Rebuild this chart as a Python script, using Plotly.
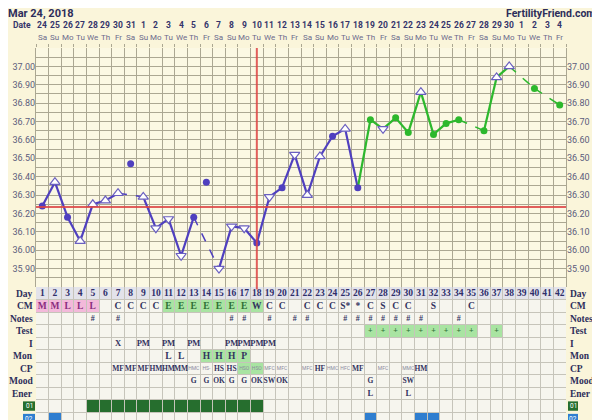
import plotly.graph_objects as go

# ---------------- data ----------------
days = list(range(1, 43))
date_nums = ["24", "25", "26", "27", "28", "29", "30", "31",
             "1", "2", "3", "4", "5", "6", "7", "8", "9", "10", "11", "12", "13", "14", "15",
             "16", "17", "18", "19", "20", "21", "22", "23", "24", "25", "26", "27", "28", "29", "30",
             "1", "2", "3", "4"]
weekdays = ["Sa", "Su", "Mo", "Tu", "We", "Th", "Fr"] * 6

temps = [36.24, 36.37, 36.18, 36.05, 36.25, 36.27, 36.31, None, 36.29, 36.12,
         36.17, 35.97, 36.18, None, 35.90, 36.13, 36.12, 36.04, 36.29, 36.34,
         36.52, 36.30, 36.51, 36.62, 36.66, 36.34, 36.71, 36.66, 36.72, 36.64,
         36.86, 36.63, 36.69, 36.71, None, 36.65, 36.94, 37.00, None, 36.88,
         None, 36.79]
marker_kind = ["c", "u", "c", "u", "u", "u", "u", None, "u", "d",
               "d", "d", "c", None, "d", "d", "d", "c", "d", "c",
               "d", "u", "u", "c", "u", "c", "c", "d", "c", "c",
               "u", "c", "c", "c", None, "c", "u", "u", None, "c",
               None, "c"]
discarded_days = [8, 14]
discarded_temps = [36.47, 36.37]
coverline = 36.235
ovulation_day = 18
last_blue_day = 26

temp_ticks = [35.90, 36.00, 36.10, 36.20, 36.30, 36.40, 36.50, 36.60, 36.70, 36.80, 36.90, 37.00]

row_labels = ["Day", "CM", "Notes", "Test", "I", "Mon", "CP", "Mood", "Ener"]
cm_row = {1: "M", 2: "M", 3: "L", 4: "L", 5: "L", 7: "C", 8: "C", 9: "C", 10: "C",
          11: "E", 12: "E", 13: "E", 14: "E", 15: "E", 16: "E", 17: "E", 18: "W",
          19: "C", 20: "C", 22: "C", 23: "C", 24: "C", 25: "S*", 26: "*", 27: "C",
          28: "S", 29: "C", 30: "C", 32: "S", 35: "C"}
notes_days = [5, 7, 16, 17, 19, 21, 22, 25, 26, 27, 28, 29, 30, 31, 34]
test_days = [27, 28, 29, 30, 31, 32, 33, 34, 35, 37]
i_row = {7: "X", 9: "PM", 11: "PM", 13: "PM", 16: "PM", 17: "PM", 18: "PM", 19: "PM"}
mon_row = {11: "L", 12: "L", 14: "H", 15: "H", 16: "H", 17: "P"}
cp_bold = {7: "MF", 8: "MF", 9: "MF", 10: "HM", 11: "HM", 12: "MM", 15: "HS", 16: "HS",
           23: "HF", 26: "MF", 31: "HM"}
cp_small = {13: "HMC", 14: "HS-", 17: "HSO", 18: "HSO", 19: "MFC", 20: "MFC", 22: "MFC",
            24: "HMC", 25: "HFC", 28: "MFC", 30: "MMC"}
mood_row = {13: "G", 14: "G", 15: "OK", 16: "G", 17: "G", 18: "OK", 19: "SW", 20: "OK",
            27: "G", 30: "SW"}
ener_row = {27: "L", 30: "L"}
cm_pink_days = [1, 2, 3, 4, 5]
cm_green_days = [11, 12, 13, 14, 15, 16, 17, 18]
mon_green_days = [14, 15, 16, 17]
cp_green_days = [17, 18]
row01_days = list(range(5, 19))
row02_days = [2, 27, 31, 32]

# ---------------- geometry (page has an 8px body margin) ----------------
OFF = 8
W, H = 600 - OFF, 420 - OFF
ML, MR, MT, MB = 36 - OFF, 34, 48 - OFF, 0
PLOT_H = H - MT - MB
PLOT_W = W - ML - MR
TEMP_BOTTOM = 287 - OFF
ROW_H = 12.5
split = (H - MB - TEMP_BOTTOM) / PLOT_H
table_rows_visible = (H - MB - TEMP_BOTTOM) / ROW_H


def py(ref_y):
    return (H - MB - (ref_y - OFF)) / PLOT_H


def px(ref_x):
    return ((ref_x - OFF) - ML) / PLOT_W


BLUE = "#4F3FBF"
GREEN = "#2DB82D"
RED = "#DD4444"
NAVY = "#33335E"
PAPER = "#FAF5DA"
TEMP_BG = "#FBF8E3"
TABLE_BG = "#F6F5EE"
GRID_T = "#ABA792"
GRID_TAB = "#C6C4BA"
SERIF = "Liberation Serif"
SANS = "Roboto"

fig = go.Figure()

# ---------------- temperature lines ----------------
valid = [(d, t) for d, t in zip(days, temps) if t is not None]
seg = {}
for (d0, t0), (d1, t1) in zip(valid, valid[1:]):
    color = BLUE if d1 <= last_blue_day else GREEN
    dashed = (d1 - d0) > 1
    key = (color, dashed)
    seg.setdefault(key, ([], []))
    seg[key][0].extend([d0, d1, None])
    seg[key][1].extend([t0, t1, None])
for (color, dashed), (xs, ys) in seg.items():
    fig.add_trace(go.Scatter(x=xs, y=ys, mode="lines", xaxis="x", yaxis="y",
                             line=dict(color=color, width=1.5 if dashed else 2.2,
                                       dash="dash" if dashed else "solid"),
                             hoverinfo="skip", showlegend=False))

cx, cy, cc = [], [], []
for d, t, k in zip(days, temps, marker_kind):
    if k == "c":
        cx.append(d)
        cy.append(t)
        cc.append(BLUE if d <= last_blue_day else GREEN)
fig.add_trace(go.Scatter(x=cx, y=cy, mode="markers", xaxis="x", yaxis="y",
                         marker=dict(symbol="circle", size=7, color=cc, line=dict(width=0)),
                         hoverinfo="skip", showlegend=False))
fig.add_trace(go.Scatter(x=discarded_days, y=discarded_temps, mode="markers", xaxis="x", yaxis="y",
                         marker=dict(symbol="circle", size=7, color=BLUE),
                         hoverinfo="skip", showlegend=False))
for kind, sym in (("u", "triangle-up"), ("d", "triangle-down")):
    tx = [d for d, k in zip(days, marker_kind) if k == kind]
    ty = [t for t, k in zip(temps, marker_kind) if k == kind]
    fig.add_trace(go.Scatter(x=tx, y=ty, mode="markers", xaxis="x", yaxis="y",
                             marker=dict(symbol=sym, size=9, color="white",
                                         line=dict(color="#6A5FC0", width=1.2)),
                             hoverinfo="skip", showlegend=False))

fig.add_shape(type="line", xref="x domain", yref="y", x0=0, x1=1, y0=coverline, y1=coverline,
              line=dict(color=RED, width=2), opacity=0.85, layer="above")
fig.add_shape(type="line", xref="x", yref="y domain", x0=ovulation_day, x1=ovulation_day, y0=-0.01, y1=1,
              line=dict(color=RED, width=2), opacity=0.85, layer="above")

# ---------------- table ----------------
fig.add_shape(type="rect", xref="x2 domain", yref="y2 domain", x0=0, x1=1, y0=0, y1=1,
              fillcolor=TABLE_BG, line=dict(width=0), layer="below")


def cell(day, row, color):
    fig.add_shape(type="rect", xref="x2", yref="y2", x0=day - 0.5, x1=day + 0.5,
                  y0=row, y1=row + 1, fillcolor=color, line=dict(width=0), layer="below")


for d in days:
    cell(d, 0, "#E3E3EA")
for d in cm_pink_days:
    cell(d, 1, "#F3B9DA")
for d in cm_green_days:
    cell(d, 1, "#A9E4A2")
for d in test_days:
    cell(d, 3, "#A9E4A2")
for d in mon_green_days:
    cell(d, 5, "#A9E4A2")
for d in cp_green_days:
    cell(d, 6, "#A9E4A2")
for d in row01_days:
    cell(d, 9, "#266E2E")
for d in row02_days:
    cell(d, 10, "#2F7ED0")


def text_row(row, mapping, size=9, color=NAVY, family=SERIF, bold=True, colors=None):
    ks = sorted(mapping)
    fig.add_trace(go.Scatter(x=ks, y=[row + 0.55] * len(ks), mode="text",
                             text=[mapping[k] for k in ks], xaxis="x2", yaxis="y2",
                             textfont=dict(family=family, size=size,
                                           weight="bold" if bold else "normal",
                                           color=colors(ks) if colors else color),
                             hoverinfo="skip", showlegend=False))


def cm_colors(ks):
    out = []
    for k in ks:
        if k in cm_pink_days:
            out.append("#8A2C7E")
        elif cm_row[k] == "E":
            out.append("#2F6F35")
        else:
            out.append(NAVY)
    return out


text_row(0, {d: str(d) for d in days}, size=9.5, color="#2E2E6A")
text_row(1, cm_row, size=9.5, colors=cm_colors)
text_row(2, {d: "#" for d in notes_days}, size=8)
text_row(3, {d: "+" for d in test_days}, size=8, color="#2F6F35")
text_row(4, i_row, size=8.5)
text_row(5, mon_row, size=9.5)
text_row(6, cp_bold, size=7.5)
text_row(6, cp_small, size=5, color="#8A8AA0", family=SANS, bold=False)
text_row(7, mood_row, size=7.5)
text_row(8, ener_row, size=8.5)

ann = []
for r, lab in enumerate(row_labels):
    ann.append(dict(text=lab, xref="paper", yref="y2", x=px(35), y=r + 0.55,
                    xanchor="right", yanchor="middle", showarrow=False,
                    font=dict(family=SERIF, size=9.5, color="#2E2E5A", weight="bold")))
    ann.append(dict(text=lab, xref="paper", yref="y2", x=px(568), y=r + 0.55,
                    xanchor="left", yanchor="middle", showarrow=False,
                    font=dict(family=SERIF, size=9.5, color="#2E2E5A", weight="bold")))

for r, lab, col in ((9, "01", "#266E2E"), (10, "02", "#2F7ED0")):
    for x0, x1 in ((23, 35), (568, 578)):
        fig.add_shape(type="rect", xref="paper", yref="y2", x0=px(x0), x1=px(x1),
                      y0=r + 0.15, y1=r + 0.9, fillcolor=col, line=dict(width=0), layer="above")
        ann.append(dict(text=lab, xref="paper", yref="y2", x=px((x0 + x1) / 2), y=r + 0.55,
                        xanchor="center", yanchor="middle", showarrow=False,
                        font=dict(family=SANS, size=6.5, color="white")))

for d, num, wd in zip(days, date_nums, weekdays):
    ann.append(dict(text=num, xref="x", yref="paper", x=d, y=py(25.5),
                    xanchor="center", yanchor="middle", showarrow=False,
                    font=dict(family=SANS, size=8.5, color="#34346A", weight="bold")))
    ann.append(dict(text=wd, xref="x", yref="paper", x=d, y=py(37),
                    xanchor="center", yanchor="middle", showarrow=False,
                    font=dict(family=SANS, size=8, color="#6A6A8C")))
ann.append(dict(text="Date", xref="paper", yref="paper", x=px(33), y=py(25.5),
                xanchor="right", yanchor="middle", showarrow=False,
                font=dict(family=SANS, size=8.5, color="#34346A", weight="bold")))
ann.append(dict(text="Mar 24, 2018", xref="paper", yref="paper", x=px(6), y=py(13),
                xanchor="left", yanchor="middle", showarrow=False,
                font=dict(family=SANS, size=11, color="#2D2D5A", weight="bold")))
ann.append(dict(text="FertilityFriend.com", xref="paper", yref="paper", x=px(597), y=py(13),
                xanchor="right", yanchor="middle", showarrow=False,
                font=dict(family=SANS, size=10.5, color="#2D2D5A", weight="bold")))

# ---------------- axes ----------------
col_edges = [d - 0.5 for d in days] + [days[-1] + 0.5]
temp_grid = [round(35.80 + 0.05 * i, 2) for i in range(27)]

fig.update_layout(
    width=W, height=H,
    margin=dict(l=ML, r=MR, t=MT, b=MB, autoexpand=False),
    paper_bgcolor=PAPER, plot_bgcolor=TEMP_BG,
    showlegend=False,
    annotations=ann,
    xaxis=dict(domain=[0, 1], anchor="y", range=[0.5, 42.5], tickvals=col_edges,
               showticklabels=False, showgrid=True, gridcolor=GRID_T, gridwidth=1,
               side="top", ticks="outside", ticklen=3, tickcolor=GRID_T, zeroline=False),
    yaxis=dict(domain=[split, 1], anchor="x", range=[35.80, 37.10],
               tickvals=temp_grid, ticktext=[""] * len(temp_grid),
               showgrid=True, gridcolor=GRID_T, gridwidth=1, zeroline=False, ticks="",
               showline=True, linecolor=GRID_T, mirror=True),
    yaxis3=dict(overlaying="y", anchor="x", side="left", range=[35.80, 37.10],
                tickvals=temp_ticks, ticktext=[f"{v:.2f}" for v in temp_ticks],
                showgrid=False, zeroline=False, ticks="",
                tickfont=dict(family=SANS, size=9, color="#5C5C7C")),
    yaxis4=dict(overlaying="y", anchor="x", side="right", range=[35.80, 37.10],
                tickvals=temp_ticks, ticktext=[f"{v:.2f}" for v in temp_ticks],
                showgrid=False, zeroline=False, ticks="",
                tickfont=dict(family=SANS, size=9, color="#5C5C7C")),
    xaxis2=dict(domain=[0, 1], anchor="y2", range=[0.5, 42.5], tickvals=col_edges,
                showticklabels=False, showgrid=True, gridcolor=GRID_TAB, zeroline=False, ticks=""),
    yaxis2=dict(domain=[0, split], anchor="x2", range=[table_rows_visible, 0],
                tickvals=list(range(0, 12)), showticklabels=False, showgrid=True,
                gridcolor=GRID_TAB, zeroline=False, ticks=""),
)
fig.add_trace(go.Scatter(x=[None], y=[None], xaxis="x", yaxis="y3", showlegend=False, hoverinfo="skip"))
fig.add_trace(go.Scatter(x=[None], y=[None], xaxis="x", yaxis="y4", showlegend=False, hoverinfo="skip"))

fig.write_html("out.html")
